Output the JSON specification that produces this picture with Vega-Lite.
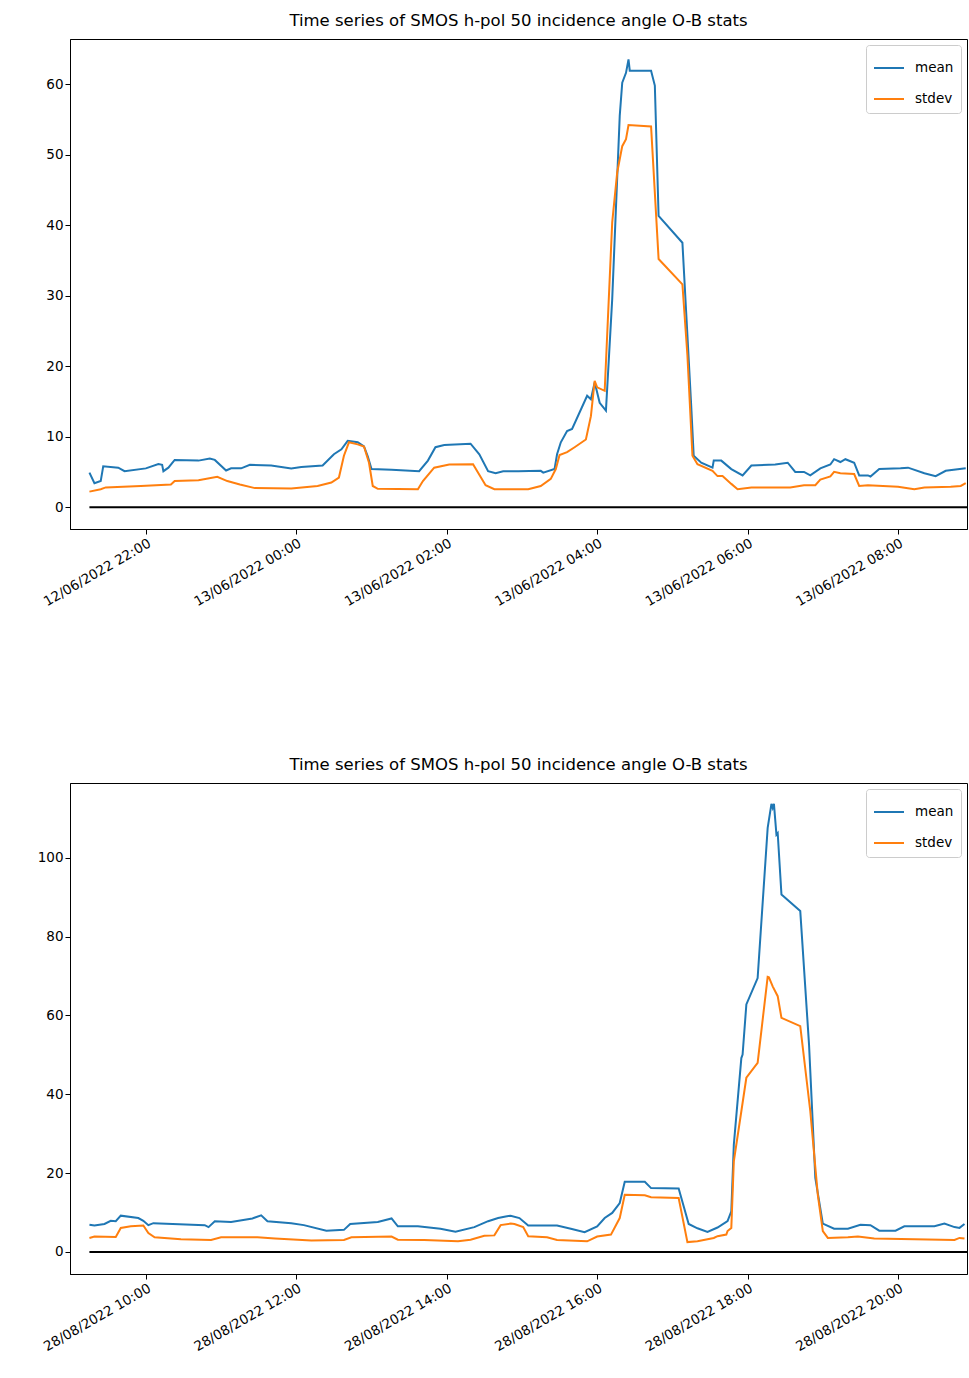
{
  "$schema": "https://vega.github.io/schema/vega-lite/v6.json",
  "padding": {"left": 36, "top": 12, "right": 0, "bottom": 0},
  "datasets": {
    "d_top": [
      {"t":"2022-06-12T21:15:00","series":"mean","v":4.9},{"t":"2022-06-12T21:19:00","series":"mean","v":3.4},{"t":"2022-06-12T21:24:00","series":"mean","v":3.7},{"t":"2022-06-12T21:26:00","series":"mean","v":5.8},{"t":"2022-06-12T21:38:00","series":"mean","v":5.6},{"t":"2022-06-12T21:43:00","series":"mean","v":5.1},{"t":"2022-06-12T22:00:00","series":"mean","v":5.5},{"t":"2022-06-12T22:10:00","series":"mean","v":6.1},{"t":"2022-06-12T22:13:00","series":"mean","v":6.0},{"t":"2022-06-12T22:14:00","series":"mean","v":5.1},{"t":"2022-06-12T22:18:00","series":"mean","v":5.6},{"t":"2022-06-12T22:23:00","series":"mean","v":6.7},{"t":"2022-06-12T22:42:00","series":"mean","v":6.6},{"t":"2022-06-12T22:51:00","series":"mean","v":6.9},{"t":"2022-06-12T22:55:00","series":"mean","v":6.7},{"t":"2022-06-12T23:04:00","series":"mean","v":5.2},{"t":"2022-06-12T23:08:00","series":"mean","v":5.5},{"t":"2022-06-12T23:16:00","series":"mean","v":5.5},{"t":"2022-06-12T23:23:00","series":"mean","v":6.0},{"t":"2022-06-12T23:40:00","series":"mean","v":5.9},{"t":"2022-06-12T23:56:00","series":"mean","v":5.5},{"t":"2022-06-13T00:04:00","series":"mean","v":5.7},{"t":"2022-06-13T00:21:00","series":"mean","v":5.9},{"t":"2022-06-13T00:30:00","series":"mean","v":7.5},{"t":"2022-06-13T00:36:00","series":"mean","v":8.2},{"t":"2022-06-13T00:41:00","series":"mean","v":9.4},{"t":"2022-06-13T00:49:00","series":"mean","v":9.2},{"t":"2022-06-13T00:54:00","series":"mean","v":8.6},{"t":"2022-06-13T00:57:00","series":"mean","v":7.2},{"t":"2022-06-13T01:00:00","series":"mean","v":5.4},{"t":"2022-06-13T01:16:00","series":"mean","v":5.3},{"t":"2022-06-13T01:38:00","series":"mean","v":5.1},{"t":"2022-06-13T01:45:00","series":"mean","v":6.6},{"t":"2022-06-13T01:51:00","series":"mean","v":8.5},{"t":"2022-06-13T01:58:00","series":"mean","v":8.8},{"t":"2022-06-13T02:19:00","series":"mean","v":9.0},{"t":"2022-06-13T02:26:00","series":"mean","v":7.5},{"t":"2022-06-13T02:33:00","series":"mean","v":5.1},{"t":"2022-06-13T02:39:00","series":"mean","v":4.8},{"t":"2022-06-13T02:45:00","series":"mean","v":5.1},{"t":"2022-06-13T02:57:00","series":"mean","v":5.1},{"t":"2022-06-13T03:15:00","series":"mean","v":5.15},{"t":"2022-06-13T03:17:00","series":"mean","v":4.9},{"t":"2022-06-13T03:26:00","series":"mean","v":5.4},{"t":"2022-06-13T03:28:00","series":"mean","v":7.5},{"t":"2022-06-13T03:31:00","series":"mean","v":9.2},{"t":"2022-06-13T03:36:00","series":"mean","v":10.8},{"t":"2022-06-13T03:40:00","series":"mean","v":11.1},{"t":"2022-06-13T03:52:00","series":"mean","v":15.8},{"t":"2022-06-13T03:55:00","series":"mean","v":15.3},{"t":"2022-06-13T03:58:00","series":"mean","v":17.7},{"t":"2022-06-13T04:02:00","series":"mean","v":14.8},{"t":"2022-06-13T04:07:00","series":"mean","v":13.7},{"t":"2022-06-13T04:12:00","series":"mean","v":29.5},{"t":"2022-06-13T04:18:00","series":"mean","v":55.5},{"t":"2022-06-13T04:20:00","series":"mean","v":60.2},{"t":"2022-06-13T04:23:00","series":"mean","v":61.6},{"t":"2022-06-13T04:25:00","series":"mean","v":63.5},{"t":"2022-06-13T04:26:00","series":"mean","v":61.9},{"t":"2022-06-13T04:43:00","series":"mean","v":61.9},{"t":"2022-06-13T04:46:00","series":"mean","v":59.8},{"t":"2022-06-13T04:49:00","series":"mean","v":41.3},{"t":"2022-06-13T05:08:00","series":"mean","v":37.5},{"t":"2022-06-13T05:11:00","series":"mean","v":27.6},{"t":"2022-06-13T05:15:00","series":"mean","v":14.4},{"t":"2022-06-13T05:17:00","series":"mean","v":7.3},{"t":"2022-06-13T05:23:00","series":"mean","v":6.3},{"t":"2022-06-13T05:32:00","series":"mean","v":5.6},{"t":"2022-06-13T05:33:00","series":"mean","v":6.6},{"t":"2022-06-13T05:39:00","series":"mean","v":6.6},{"t":"2022-06-13T05:47:00","series":"mean","v":5.4},{"t":"2022-06-13T05:56:00","series":"mean","v":4.5},{"t":"2022-06-13T06:03:00","series":"mean","v":5.9},{"t":"2022-06-13T06:22:00","series":"mean","v":6.05},{"t":"2022-06-13T06:32:00","series":"mean","v":6.3},{"t":"2022-06-13T06:38:00","series":"mean","v":5.0},{"t":"2022-06-13T06:45:00","series":"mean","v":5.0},{"t":"2022-06-13T06:50:00","series":"mean","v":4.5},{"t":"2022-06-13T06:58:00","series":"mean","v":5.5},{"t":"2022-06-13T07:06:00","series":"mean","v":6.05},{"t":"2022-06-13T07:09:00","series":"mean","v":6.8},{"t":"2022-06-13T07:14:00","series":"mean","v":6.4},{"t":"2022-06-13T07:18:00","series":"mean","v":6.8},{"t":"2022-06-13T07:25:00","series":"mean","v":6.3},{"t":"2022-06-13T07:29:00","series":"mean","v":4.5},{"t":"2022-06-13T07:36:00","series":"mean","v":4.5},{"t":"2022-06-13T07:38:00","series":"mean","v":4.35},{"t":"2022-06-13T07:45:00","series":"mean","v":5.4},{"t":"2022-06-13T08:02:00","series":"mean","v":5.5},{"t":"2022-06-13T08:08:00","series":"mean","v":5.6},{"t":"2022-06-13T08:21:00","series":"mean","v":4.8},{"t":"2022-06-13T08:30:00","series":"mean","v":4.4},{"t":"2022-06-13T08:38:00","series":"mean","v":5.15},{"t":"2022-06-13T08:54:00","series":"mean","v":5.5},
      {"t":"2022-06-12T21:15:00","series":"stdev","v":2.2},{"t":"2022-06-12T21:24:00","series":"stdev","v":2.55},{"t":"2022-06-12T21:28:00","series":"stdev","v":2.8},{"t":"2022-06-12T21:56:00","series":"stdev","v":3.0},{"t":"2022-06-12T22:20:00","series":"stdev","v":3.2},{"t":"2022-06-12T22:23:00","series":"stdev","v":3.7},{"t":"2022-06-12T22:42:00","series":"stdev","v":3.8},{"t":"2022-06-12T22:57:00","series":"stdev","v":4.3},{"t":"2022-06-12T23:05:00","series":"stdev","v":3.7},{"t":"2022-06-12T23:15:00","series":"stdev","v":3.2},{"t":"2022-06-12T23:27:00","series":"stdev","v":2.7},{"t":"2022-06-12T23:56:00","series":"stdev","v":2.65},{"t":"2022-06-13T00:17:00","series":"stdev","v":3.0},{"t":"2022-06-13T00:28:00","series":"stdev","v":3.5},{"t":"2022-06-13T00:34:00","series":"stdev","v":4.2},{"t":"2022-06-13T00:38:00","series":"stdev","v":7.3},{"t":"2022-06-13T00:42:00","series":"stdev","v":9.2},{"t":"2022-06-13T00:49:00","series":"stdev","v":8.9},{"t":"2022-06-13T00:54:00","series":"stdev","v":8.6},{"t":"2022-06-13T00:58:00","series":"stdev","v":6.3},{"t":"2022-06-13T01:01:00","series":"stdev","v":3.0},{"t":"2022-06-13T01:05:00","series":"stdev","v":2.6},{"t":"2022-06-13T01:37:00","series":"stdev","v":2.55},{"t":"2022-06-13T01:41:00","series":"stdev","v":3.7},{"t":"2022-06-13T01:50:00","series":"stdev","v":5.6},{"t":"2022-06-13T02:02:00","series":"stdev","v":6.05},{"t":"2022-06-13T02:21:00","series":"stdev","v":6.1},{"t":"2022-06-13T02:31:00","series":"stdev","v":3.1},{"t":"2022-06-13T02:38:00","series":"stdev","v":2.55},{"t":"2022-06-13T03:05:00","series":"stdev","v":2.55},{"t":"2022-06-13T03:15:00","series":"stdev","v":3.0},{"t":"2022-06-13T03:23:00","series":"stdev","v":4.0},{"t":"2022-06-13T03:27:00","series":"stdev","v":5.4},{"t":"2022-06-13T03:30:00","series":"stdev","v":7.4},{"t":"2022-06-13T03:36:00","series":"stdev","v":7.8},{"t":"2022-06-13T03:42:00","series":"stdev","v":8.5},{"t":"2022-06-13T03:51:00","series":"stdev","v":9.6},{"t":"2022-06-13T03:55:00","series":"stdev","v":12.9},{"t":"2022-06-13T03:58:00","series":"stdev","v":17.9},{"t":"2022-06-13T04:00:00","series":"stdev","v":17.0},{"t":"2022-06-13T04:06:00","series":"stdev","v":16.5},{"t":"2022-06-13T04:12:00","series":"stdev","v":40.4},{"t":"2022-06-13T04:16:00","series":"stdev","v":47.5},{"t":"2022-06-13T04:20:00","series":"stdev","v":51.2},{"t":"2022-06-13T04:23:00","series":"stdev","v":52.2},{"t":"2022-06-13T04:25:00","series":"stdev","v":54.2},{"t":"2022-06-13T04:43:00","series":"stdev","v":54.0},{"t":"2022-06-13T04:49:00","series":"stdev","v":35.2},{"t":"2022-06-13T05:08:00","series":"stdev","v":31.6},{"t":"2022-06-13T05:12:00","series":"stdev","v":21.5},{"t":"2022-06-13T05:16:00","series":"stdev","v":7.3},{"t":"2022-06-13T05:20:00","series":"stdev","v":6.1},{"t":"2022-06-13T05:32:00","series":"stdev","v":5.15},{"t":"2022-06-13T05:36:00","series":"stdev","v":4.4},{"t":"2022-06-13T05:40:00","series":"stdev","v":4.4},{"t":"2022-06-13T05:47:00","series":"stdev","v":3.3},{"t":"2022-06-13T05:52:00","series":"stdev","v":2.55},{"t":"2022-06-13T06:03:00","series":"stdev","v":2.8},{"t":"2022-06-13T06:34:00","series":"stdev","v":2.8},{"t":"2022-06-13T06:45:00","series":"stdev","v":3.1},{"t":"2022-06-13T06:54:00","series":"stdev","v":3.1},{"t":"2022-06-13T06:58:00","series":"stdev","v":3.9},{"t":"2022-06-13T07:06:00","series":"stdev","v":4.35},{"t":"2022-06-13T07:09:00","series":"stdev","v":5.0},{"t":"2022-06-13T07:14:00","series":"stdev","v":4.8},{"t":"2022-06-13T07:25:00","series":"stdev","v":4.7},{"t":"2022-06-13T07:29:00","series":"stdev","v":3.0},{"t":"2022-06-13T07:36:00","series":"stdev","v":3.1},{"t":"2022-06-13T08:00:00","series":"stdev","v":2.9},{"t":"2022-06-13T08:13:00","series":"stdev","v":2.55},{"t":"2022-06-13T08:21:00","series":"stdev","v":2.8},{"t":"2022-06-13T08:42:00","series":"stdev","v":2.9},{"t":"2022-06-13T08:50:00","series":"stdev","v":3.0},{"t":"2022-06-13T08:54:00","series":"stdev","v":3.4}
    ],
    "d_bottom": [
      {"t":"2022-08-28T09:15:00","series":"mean","v":6.9},{"t":"2022-08-28T09:19:00","series":"mean","v":6.7},{"t":"2022-08-28T09:27:00","series":"mean","v":7.1},{"t":"2022-08-28T09:32:00","series":"mean","v":7.9},{"t":"2022-08-28T09:36:00","series":"mean","v":7.8},{"t":"2022-08-28T09:40:00","series":"mean","v":9.2},{"t":"2022-08-28T09:54:00","series":"mean","v":8.6},{"t":"2022-08-28T09:58:00","series":"mean","v":7.9},{"t":"2022-08-28T10:02:00","series":"mean","v":6.8},{"t":"2022-08-28T10:06:00","series":"mean","v":7.3},{"t":"2022-08-28T10:47:00","series":"mean","v":6.8},{"t":"2022-08-28T10:50:00","series":"mean","v":6.3},{"t":"2022-08-28T10:55:00","series":"mean","v":7.8},{"t":"2022-08-28T11:08:00","series":"mean","v":7.6},{"t":"2022-08-28T11:25:00","series":"mean","v":8.5},{"t":"2022-08-28T11:32:00","series":"mean","v":9.3},{"t":"2022-08-28T11:37:00","series":"mean","v":7.8},{"t":"2022-08-28T11:56:00","series":"mean","v":7.3},{"t":"2022-08-28T12:06:00","series":"mean","v":6.8},{"t":"2022-08-28T12:24:00","series":"mean","v":5.4},{"t":"2022-08-28T12:38:00","series":"mean","v":5.6},{"t":"2022-08-28T12:43:00","series":"mean","v":7.1},{"t":"2022-08-28T13:05:00","series":"mean","v":7.6},{"t":"2022-08-28T13:16:00","series":"mean","v":8.5},{"t":"2022-08-28T13:21:00","series":"mean","v":6.5},{"t":"2022-08-28T13:37:00","series":"mean","v":6.5},{"t":"2022-08-28T13:55:00","series":"mean","v":5.9},{"t":"2022-08-28T14:07:00","series":"mean","v":5.1},{"t":"2022-08-28T14:22:00","series":"mean","v":6.3},{"t":"2022-08-28T14:33:00","series":"mean","v":7.8},{"t":"2022-08-28T14:41:00","series":"mean","v":8.6},{"t":"2022-08-28T14:47:00","series":"mean","v":9.0},{"t":"2022-08-28T14:51:00","series":"mean","v":9.2},{"t":"2022-08-28T14:58:00","series":"mean","v":8.6},{"t":"2022-08-28T15:05:00","series":"mean","v":6.7},{"t":"2022-08-28T15:28:00","series":"mean","v":6.7},{"t":"2022-08-28T15:39:00","series":"mean","v":5.9},{"t":"2022-08-28T15:50:00","series":"mean","v":5.0},{"t":"2022-08-28T16:00:00","series":"mean","v":6.5},{"t":"2022-08-28T16:06:00","series":"mean","v":8.6},{"t":"2022-08-28T16:12:00","series":"mean","v":9.9},{"t":"2022-08-28T16:18:00","series":"mean","v":12.4},{"t":"2022-08-28T16:22:00","series":"mean","v":17.8},{"t":"2022-08-28T16:38:00","series":"mean","v":17.8},{"t":"2022-08-28T16:43:00","series":"mean","v":16.2},{"t":"2022-08-28T17:05:00","series":"mean","v":16.1},{"t":"2022-08-28T17:13:00","series":"mean","v":7.1},{"t":"2022-08-28T17:20:00","series":"mean","v":6.0},{"t":"2022-08-28T17:28:00","series":"mean","v":5.1},{"t":"2022-08-28T17:36:00","series":"mean","v":6.2},{"t":"2022-08-28T17:44:00","series":"mean","v":7.8},{"t":"2022-08-28T17:47:00","series":"mean","v":10.3},{"t":"2022-08-28T17:49:00","series":"mean","v":27.2},{"t":"2022-08-28T17:55:00","series":"mean","v":49.2},{"t":"2022-08-28T17:56:00","series":"mean","v":50.1},{"t":"2022-08-28T17:59:00","series":"mean","v":62.8},{"t":"2022-08-28T18:08:00","series":"mean","v":69.5},{"t":"2022-08-28T18:16:00","series":"mean","v":107.6},{"t":"2022-08-28T18:19:00","series":"mean","v":113.7},{"t":"2022-08-28T18:20:00","series":"mean","v":112.7},{"t":"2022-08-28T18:21:00","series":"mean","v":113.7},{"t":"2022-08-28T18:23:00","series":"mean","v":105.9},{"t":"2022-08-28T18:24:00","series":"mean","v":106.3},{"t":"2022-08-28T18:27:00","series":"mean","v":90.7},{"t":"2022-08-28T18:42:00","series":"mean","v":86.5},{"t":"2022-08-28T18:49:00","series":"mean","v":52.6},{"t":"2022-08-28T18:54:00","series":"mean","v":18.8},{"t":"2022-08-28T19:00:00","series":"mean","v":7.2},{"t":"2022-08-28T19:09:00","series":"mean","v":5.9},{"t":"2022-08-28T19:20:00","series":"mean","v":5.9},{"t":"2022-08-28T19:30:00","series":"mean","v":6.9},{"t":"2022-08-28T19:38:00","series":"mean","v":6.8},{"t":"2022-08-28T19:45:00","series":"mean","v":5.4},{"t":"2022-08-28T19:58:00","series":"mean","v":5.4},{"t":"2022-08-28T20:05:00","series":"mean","v":6.5},{"t":"2022-08-28T20:29:00","series":"mean","v":6.5},{"t":"2022-08-28T20:37:00","series":"mean","v":7.2},{"t":"2022-08-28T20:45:00","series":"mean","v":6.3},{"t":"2022-08-28T20:49:00","series":"mean","v":6.1},{"t":"2022-08-28T20:53:00","series":"mean","v":7.1},
      {"t":"2022-08-28T09:15:00","series":"stdev","v":3.55},{"t":"2022-08-28T09:19:00","series":"stdev","v":3.9},{"t":"2022-08-28T09:36:00","series":"stdev","v":3.8},{"t":"2022-08-28T09:40:00","series":"stdev","v":6.1},{"t":"2022-08-28T09:48:00","series":"stdev","v":6.5},{"t":"2022-08-28T09:58:00","series":"stdev","v":6.7},{"t":"2022-08-28T10:02:00","series":"stdev","v":4.8},{"t":"2022-08-28T10:07:00","series":"stdev","v":3.7},{"t":"2022-08-28T10:28:00","series":"stdev","v":3.2},{"t":"2022-08-28T10:52:00","series":"stdev","v":3.05},{"t":"2022-08-28T11:00:00","series":"stdev","v":3.7},{"t":"2022-08-28T11:29:00","series":"stdev","v":3.7},{"t":"2022-08-28T11:43:00","series":"stdev","v":3.4},{"t":"2022-08-28T12:12:00","series":"stdev","v":2.9},{"t":"2022-08-28T12:38:00","series":"stdev","v":3.05},{"t":"2022-08-28T12:44:00","series":"stdev","v":3.7},{"t":"2022-08-28T13:16:00","series":"stdev","v":3.9},{"t":"2022-08-28T13:21:00","series":"stdev","v":3.1},{"t":"2022-08-28T13:42:00","series":"stdev","v":3.05},{"t":"2022-08-28T14:09:00","series":"stdev","v":2.7},{"t":"2022-08-28T14:19:00","series":"stdev","v":3.1},{"t":"2022-08-28T14:30:00","series":"stdev","v":4.1},{"t":"2022-08-28T14:38:00","series":"stdev","v":4.2},{"t":"2022-08-28T14:43:00","series":"stdev","v":6.8},{"t":"2022-08-28T14:51:00","series":"stdev","v":7.2},{"t":"2022-08-28T14:54:00","series":"stdev","v":7.1},{"t":"2022-08-28T15:01:00","series":"stdev","v":6.3},{"t":"2022-08-28T15:05:00","series":"stdev","v":4.0},{"t":"2022-08-28T15:20:00","series":"stdev","v":3.7},{"t":"2022-08-28T15:28:00","series":"stdev","v":3.05},{"t":"2022-08-28T15:52:00","series":"stdev","v":2.7},{"t":"2022-08-28T16:00:00","series":"stdev","v":3.9},{"t":"2022-08-28T16:11:00","series":"stdev","v":4.4},{"t":"2022-08-28T16:18:00","series":"stdev","v":8.6},{"t":"2022-08-28T16:22:00","series":"stdev","v":14.5},{"t":"2022-08-28T16:38:00","series":"stdev","v":14.4},{"t":"2022-08-28T16:43:00","series":"stdev","v":13.9},{"t":"2022-08-28T17:05:00","series":"stdev","v":13.7},{"t":"2022-08-28T17:12:00","series":"stdev","v":2.5},{"t":"2022-08-28T17:20:00","series":"stdev","v":2.7},{"t":"2022-08-28T17:33:00","series":"stdev","v":3.55},{"t":"2022-08-28T17:36:00","series":"stdev","v":4.0},{"t":"2022-08-28T17:43:00","series":"stdev","v":4.4},{"t":"2022-08-28T17:44:00","series":"stdev","v":5.3},{"t":"2022-08-28T17:47:00","series":"stdev","v":6.1},{"t":"2022-08-28T17:49:00","series":"stdev","v":23.0},{"t":"2022-08-28T17:55:00","series":"stdev","v":35.7},{"t":"2022-08-28T17:59:00","series":"stdev","v":44.2},{"t":"2022-08-28T18:08:00","series":"stdev","v":48.0},{"t":"2022-08-28T18:16:00","series":"stdev","v":69.8},{"t":"2022-08-28T18:17:00","series":"stdev","v":69.7},{"t":"2022-08-28T18:20:00","series":"stdev","v":67.4},{"t":"2022-08-28T18:24:00","series":"stdev","v":64.9},{"t":"2022-08-28T18:27:00","series":"stdev","v":59.4},{"t":"2022-08-28T18:42:00","series":"stdev","v":57.3},{"t":"2022-08-28T18:50:00","series":"stdev","v":35.7},{"t":"2022-08-28T18:56:00","series":"stdev","v":14.5},{"t":"2022-08-28T19:00:00","series":"stdev","v":5.3},{"t":"2022-08-28T19:04:00","series":"stdev","v":3.55},{"t":"2022-08-28T19:20:00","series":"stdev","v":3.7},{"t":"2022-08-28T19:28:00","series":"stdev","v":3.9},{"t":"2022-08-28T19:41:00","series":"stdev","v":3.4},{"t":"2022-08-28T20:13:00","series":"stdev","v":3.2},{"t":"2022-08-28T20:45:00","series":"stdev","v":3.05},{"t":"2022-08-28T20:49:00","series":"stdev","v":3.55},{"t":"2022-08-28T20:53:00","series":"stdev","v":3.4}
    ],
    "d_topzero": [{"t":"2022-06-12T21:15:00","t2":"2022-06-13T08:55:00","v":0}],
    "d_bottomzero": [{"t":"2022-08-28T09:15:00","t2":"2022-08-28T20:55:00","v":0}]
  },
  "vconcat": [
    {
      "width": 897,
      "height": 490,
      "title": "Time series of SMOS h-pol 50 incidence angle O-B stats",
      "encoding": {
        "x": {"field": "t", "type": "temporal",
          "scale": {"domain": [{"year": 2022, "month": 6, "date": 12, "hours": 20, "minutes": 59, "seconds": 30}, {"year": 2022, "month": 6, "date": 13, "hours": 8, "minutes": 55}], "nice": false},
          "axis": {"title": null, "format": "%d/%m/%Y %H:%M", "labelAngle": -30, "labelAlign": "right", "labelBaseline": "top",
            "values": [{"year": 2022, "month": 6, "date": 12, "hours": 22}, {"year": 2022, "month": 6, "date": 13, "hours": 0}, {"year": 2022, "month": 6, "date": 13, "hours": 2}, {"year": 2022, "month": 6, "date": 13, "hours": 4}, {"year": 2022, "month": 6, "date": 13, "hours": 6}, {"year": 2022, "month": 6, "date": 13, "hours": 8}]}},
        "y": {"field": "v", "type": "quantitative",
          "scale": {"domain": [-3.1, 66.4], "nice": false, "zero": false},
          "axis": {"title": null, "values": [0, 10, 20, 30, 40, 50, 60]}}
      },
      "layer": [
        {
          "data": {"name": "d_topzero"},
          "mark": {"type": "rule", "color": "black", "strokeWidth": 2},
          "encoding": {"x2": {"field": "t2"}}
        },
        {
          "data": {"name": "d_top"},
          "mark": {"type": "line", "strokeWidth": 2},
          "encoding": {
            "color": {"field": "series", "type": "nominal",
              "scale": {"domain": ["mean", "stdev"], "range": ["#1f77b4", "#ff7f0e"]},
              "legend": {"title": null, "orient": "top-right", "offset": 6}}
          }
        }
      ]
    },
    {
      "width": 897,
      "height": 491,
      "title": "Time series of SMOS h-pol 50 incidence angle O-B stats",
      "encoding": {
        "x": {"field": "t", "type": "temporal",
          "scale": {"domain": [{"year": 2022, "month": 8, "date": 28, "hours": 8, "minutes": 59, "seconds": 30}, {"year": 2022, "month": 8, "date": 28, "hours": 20, "minutes": 55}], "nice": false},
          "axis": {"title": null, "format": "%d/%m/%Y %H:%M", "labelAngle": -30, "labelAlign": "right", "labelBaseline": "top",
            "values": [{"year": 2022, "month": 8, "date": 28, "hours": 10}, {"year": 2022, "month": 8, "date": 28, "hours": 12}, {"year": 2022, "month": 8, "date": 28, "hours": 14}, {"year": 2022, "month": 8, "date": 28, "hours": 16}, {"year": 2022, "month": 8, "date": 28, "hours": 18}, {"year": 2022, "month": 8, "date": 28, "hours": 20}]}},
        "y": {"field": "v", "type": "quantitative",
          "scale": {"domain": [-5.6, 119], "nice": false, "zero": false},
          "axis": {"title": null, "values": [0, 20, 40, 60, 80, 100]}}
      },
      "layer": [
        {
          "data": {"name": "d_bottomzero"},
          "mark": {"type": "rule", "color": "black", "strokeWidth": 2},
          "encoding": {"x2": {"field": "t2"}}
        },
        {
          "data": {"name": "d_bottom"},
          "mark": {"type": "line", "strokeWidth": 2},
          "encoding": {
            "color": {"field": "series", "type": "nominal",
              "scale": {"domain": ["mean", "stdev"], "range": ["#1f77b4", "#ff7f0e"]},
              "legend": {"title": null, "orient": "top-right", "offset": 6}}
          }
        }
      ]
    }
  ],
  "spacing": 147,
  "resolve": {"scale": {"color": "independent"}},
  "config": {
    "font": "DejaVu Sans",
    "view": {"stroke": "black"},
    "axis": {"labelFont": "DejaVu Sans", "labelFontSize": 13.5, "labelColor": "black", "tickColor": "black", "domainColor": "black", "grid": false},
    "title": {"font": "DejaVu Sans", "fontSize": 16.5, "fontWeight": "normal", "color": "black", "offset": 10},
    "legend": {"labelFont": "DejaVu Sans", "labelFontSize": 13.5, "labelColor": "black", "strokeColor": "#cccccc", "fillColor": "white", "padding": 7, "cornerRadius": 3, "symbolType": "stroke", "symbolSize": 900, "symbolStrokeWidth": 2, "rowPadding": 8, "labelOffset": 10}
  }
}
